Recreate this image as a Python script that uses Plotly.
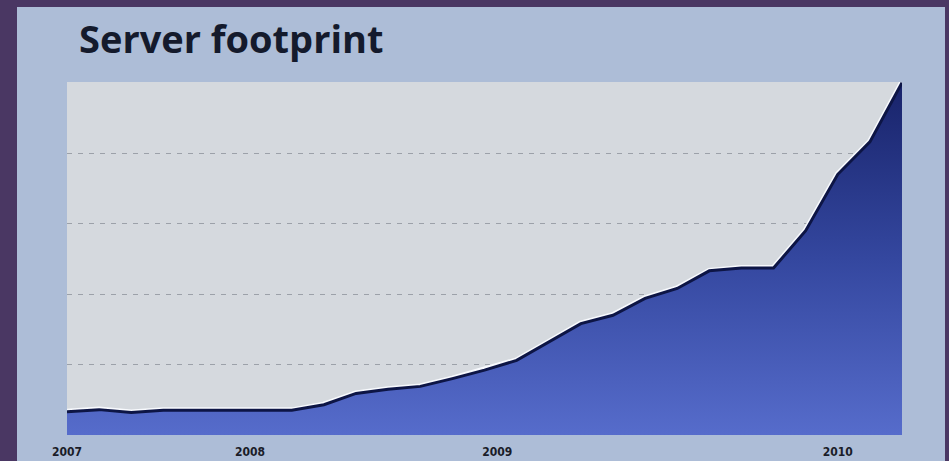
import plotly.graph_objects as go

# ---- data ----
period = list(range(27))  # evenly spaced reporting periods
footprint = [0.33, 0.36, 0.32, 0.35, 0.35, 0.35, 0.35, 0.35, 0.43, 0.59,
             0.65, 0.69, 0.80, 0.92, 1.06, 1.32, 1.58, 1.70, 1.94, 2.08,
             2.33, 2.37, 2.37, 2.90, 3.70, 4.16, 5.00]
year_tick_pos = [0, 5.7, 13.4, 24.0]
year_tick_text = ["2007", "2008", "2009", "2010"]
grid_vals = [1, 2, 3, 4, 5]

W, H = 949, 461
L, R, T, B = 67, 47, 82, 26
pw, ph = W - L - R, H - T - B

def px_x(p):
    return (p - L) / pw

def px_y(p):
    return (H - B - p) / ph

fig = go.Figure()

# white highlight under the line
fig.add_trace(go.Scatter(
    x=period, y=footprint, mode="lines",
    line=dict(color="rgba(250,252,255,0.95)", width=6),
    hoverinfo="skip", showlegend=False, cliponaxis=False,
))
# filled area with gradient
fig.add_trace(go.Scatter(
    x=period, y=footprint, mode="lines", fill="tozeroy",
    fillgradient=dict(type="vertical", start=0, stop=5,
                      colorscale=[[0, "#566ccb"], [0.5, "#34479f"], [1, "#18236a"]]),
    line=dict(color="#0d1545", width=3),
    showlegend=False, cliponaxis=False,
))

fig.update_layout(
    width=W, height=H,
    margin=dict(l=L, r=R, t=T, b=B, pad=0, autoexpand=False),
    paper_bgcolor="#4a3763",
    plot_bgcolor="rgba(0,0,0,0)",
    shapes=[
        dict(type="rect", xref="paper", yref="paper", layer="below",
             x0=px_x(17), x1=px_x(945), y0=px_y(H + 5), y1=px_y(7),
             fillcolor="#adbdd7", line=dict(width=0)),
        dict(type="rect", xref="paper", yref="paper", layer="below",
             x0=0, x1=1, y0=0, y1=1,
             fillcolor="#d5d9de", line=dict(width=0)),
    ],
    title=dict(text="<b>Server footprint</b>", xref="container", yref="container",
               x=79 / W, xanchor="left", y=(H - 40) / H, yanchor="middle",
               font=dict(family="Open Sans", size=38, color="#141a2c")),
    xaxis=dict(range=[0, 26], tickvals=year_tick_pos, ticktext=year_tick_text,
               showgrid=False, zeroline=False, showline=False, automargin=False,
               ticks="outside", ticklen=6, tickcolor="rgba(0,0,0,0)",
               tickfont=dict(family="Liberation Sans Narrow, DejaVu Sans Condensed, DejaVu Sans",
                             size=12, color="#1a1c28", weight="bold"),
               fixedrange=True),
    yaxis=dict(range=[0, 5.01], tickvals=grid_vals, showticklabels=False, automargin=False,
               showgrid=True, gridcolor="#9ca1a9", gridwidth=1, griddash="5px,6px",
               zeroline=False, showline=False, fixedrange=True),
)

fig.write_html("out.html", config={"displayModeBar": False},
               post_script="document.body.style.margin='0';")
